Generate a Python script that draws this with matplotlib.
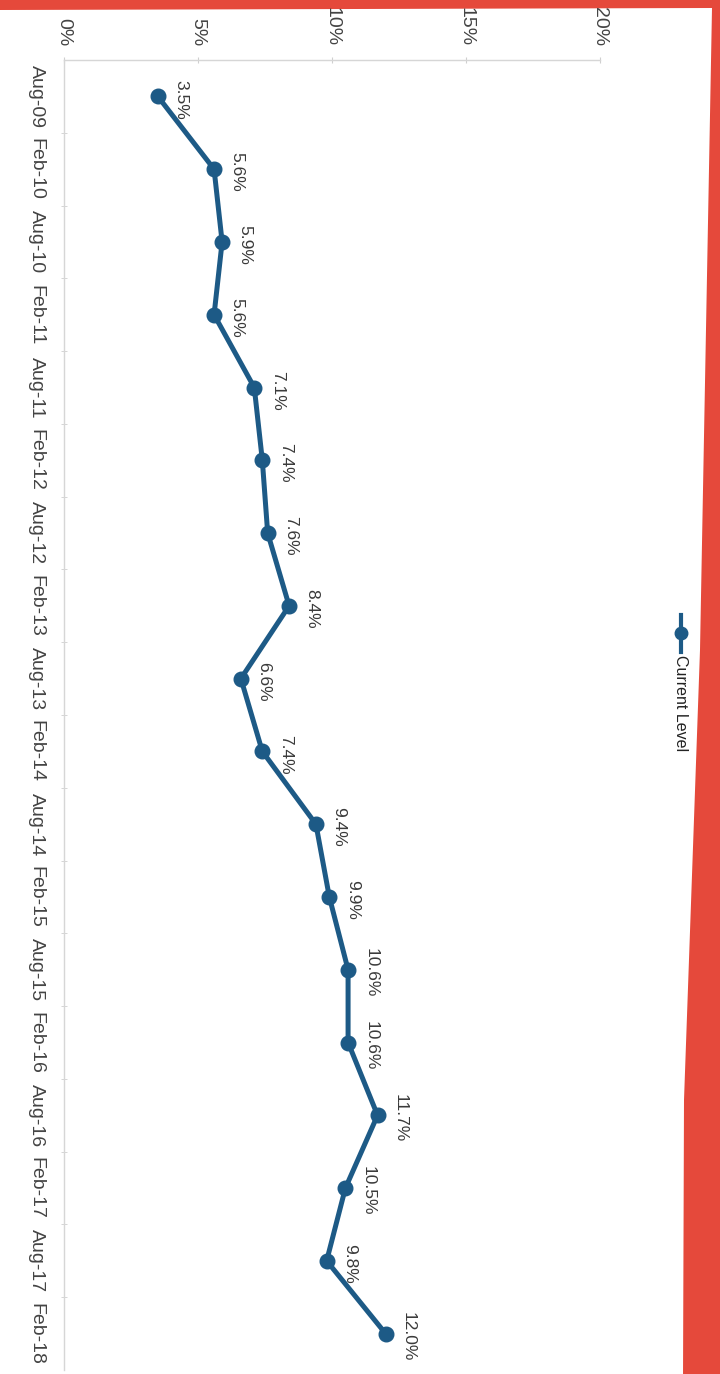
import matplotlib
matplotlib.use("Agg")
import matplotlib.pyplot as plt
from matplotlib.patches import Polygon
from matplotlib.lines import Line2D

# ---- data ----
periods = ["Aug-09", "Feb-10", "Aug-10", "Feb-11", "Aug-11", "Feb-12", "Aug-12",
           "Feb-13", "Aug-13", "Feb-14", "Aug-14", "Feb-15", "Aug-15", "Feb-16",
           "Aug-16", "Feb-17", "Aug-17", "Feb-18"]
current_level = [3.5, 5.6, 5.9, 5.6, 7.1, 7.4, 7.6, 8.4, 6.6, 7.4,
                 9.4, 9.9, 10.6, 10.6, 11.7, 10.5, 9.8, 12.0]
value_ticks = [0, 5, 10, 15, 20]
series_name = "Current Level"

W, H = 720, 1374
plt.rcParams['font.family'] = ['Liberation Sans', 'DejaVu Sans']

fig = plt.figure(figsize=(W / 100, H / 100), dpi=100)
fig.patch.set_facecolor("#e5493b")

# white paper sheet
def fxy(x, y):
    return (x / W, 1 - y / H)

paper = Polygon([fxy(0, 10), fxy(712, 8), fxy(700, 650), fxy(684, 1100),
                 fxy(683, H + 5), fxy(0, H + 5)],
                closed=True, transform=fig.transFigure, facecolor="white",
                edgecolor="none", zorder=0)
fig.add_artist(paper)

left_px, right_px = 64, 600
top_px, bottom_px = 60, 1370
ax = fig.add_axes([left_px / W, 1 - bottom_px / H,
                   (right_px - left_px) / W, (bottom_px - top_px) / H])
ax.patch.set_alpha(0)

blue = "#1d5a86"
idx = list(range(len(periods)))
ax.plot(current_level, idx, color=blue, lw=3.6, marker="o", ms=10.5,
        markerfacecolor=blue, markeredgecolor=blue, zorder=3)

for v, i in zip(current_level, idx):
    ax.annotate(f"{v:.1f}%", (v, i), xytext=(23, -3), textcoords="offset pixels",
                rotation=-90, ha="center", va="center", fontsize=12.5,
                color="#3a3a3a")

ax.set_xlim(0, 20)
ax.set_ylim(len(periods) - 0.5, -0.5)

ax.xaxis.tick_top()
ax.set_xticks(value_ticks)
ax.set_xticklabels([f"{t}%" for t in value_ticks], rotation=-90,
                   ha="center", va="bottom", fontsize=14, color="#444444")
ax.tick_params(axis="x", which="major", length=4, direction="inout",
               color="#cfcfcf", pad=8)

ax.set_yticks(idx)
ax.set_yticklabels(periods, rotation=-90, ha="right", va="center",
                   fontsize=14, color="#444444")
ax.set_yticks([i + 0.5 for i in idx[:-1]], minor=True)
ax.tick_params(axis="y", which="major", length=0, pad=14)
ax.tick_params(axis="y", which="minor", length=4, direction="inout",
               color="#cfcfcf")

for s in ["right", "bottom"]:
    ax.spines[s].set_visible(False)
for s in ["top", "left"]:
    ax.spines[s].set_color("#d6d6d6")
    ax.spines[s].set_linewidth(1.0)

# legend (rotated, manual)
lx = 681 / W
fig.add_artist(Line2D([lx, lx], [1 - 615 / H, 1 - 652 / H], color=blue, lw=3,
                      transform=fig.transFigure))
fig.add_artist(Line2D([lx], [1 - 633 / H], color=blue, marker="o", ms=9,
                      transform=fig.transFigure))
fig.text(lx, 1 - 655 / H, series_name, rotation=-90, ha="center", va="top",
         fontsize=11.5, color="#222222")

fig.savefig("out.png", dpi=100, facecolor=fig.get_facecolor())
